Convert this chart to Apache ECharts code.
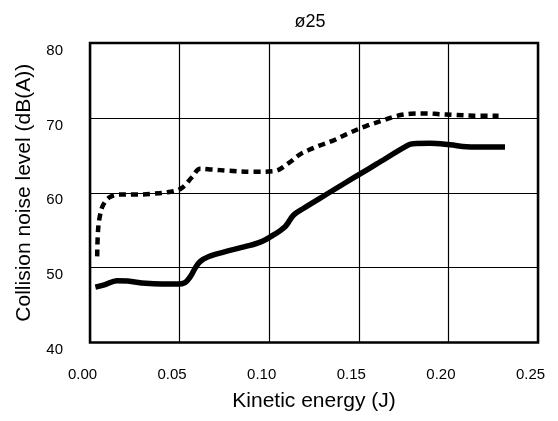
<!DOCTYPE html>
<html>
<head>
<meta charset="utf-8">
<script src="https://cdn.jsdelivr.net/npm/echarts@6/dist/echarts.min.js"></script>
<style>
html,body{margin:0;padding:0;background:#fff;}
#chart{width:558px;height:421px;}
</style>
</head>
<body>
<div id="chart"></div>
<script>
const chartTitle = 'ø25';
const xAxisName = 'Kinetic energy (J)';
const yAxisName = 'Collision noise level (dB(A))';
const xTicks = [0, 0.05, 0.10, 0.15, 0.20, 0.25];
const yTicks = [40, 50, 60, 70, 80];

const dashedX = [0.004, 0.0045, 0.0056, 0.0074, 0.011, 0.016, 0.025, 0.034, 0.044, 0.051, 0.057, 0.0614, 0.068, 0.077, 0.091, 0.103, 0.111, 0.117, 0.122, 0.128, 0.136, 0.143, 0.154, 0.164, 0.171, 0.179, 0.188, 0.195, 0.203, 0.214, 0.228];
const dashedY = [51.5, 55.0, 57.0, 58.4, 59.4, 59.75, 59.75, 59.85, 60.1, 60.6, 62.1, 63.2, 63.1, 62.95, 62.8, 62.9, 64.0, 65.1, 65.7, 66.3, 67.0, 67.8, 68.9, 69.7, 70.25, 70.55, 70.6, 70.5, 70.4, 70.3, 70.3];

const solidX = [0.003, 0.008, 0.015, 0.021, 0.031, 0.040, 0.049, 0.053, 0.056, 0.0586, 0.0614, 0.066, 0.075, 0.0865, 0.095, 0.102, 0.109, 0.1135, 0.119, 0.132, 0.143, 0.151, 0.160, 0.1775, 0.1804, 0.1897, 0.2009, 0.2102, 0.2214, 0.2316];
const solidY = [47.4, 47.7, 48.25, 48.2, 47.9, 47.8, 47.8, 48.0, 48.8, 49.9, 50.8, 51.45, 52.1, 52.8, 53.4, 54.3, 55.5, 57.0, 57.9, 59.8, 61.4, 62.55, 63.85, 66.35, 66.55, 66.6, 66.4, 66.15, 66.1, 66.1];

const pairs = (xs, ys) => xs.map((x, i) => [x, ys[i]]);
const FONT = '"Liberation Sans", Arial, sans-serif';

const chart = echarts.init(document.getElementById('chart'), null, {renderer: 'canvas'});
chart.setOption({
  animation: false,
  backgroundColor: '#fff',
  title: {
    text: chartTitle,
    left: 305,
    top: 8,
    textAlign: 'center',
    textStyle: {fontFamily: FONT, fontSize: 18, fontWeight: 'normal', color: '#000'}
  },
  grid: {
    left: 90, right: 20, top: 43, bottom: 78.5,
    show: true, borderColor: '#000', borderWidth: 2.5, backgroundColor: 'transparent'
  },
  xAxis: {
    type: 'value',
    min: xTicks[0], max: xTicks[xTicks.length - 1], interval: 0.05,
    name: xAxisName, nameLocation: 'middle', nameGap: 48,
    nameTextStyle: {fontFamily: FONT, fontSize: 21, color: '#000'},
    axisLine: {show: false}, axisTick: {show: false},
    axisLabel: {
      fontFamily: FONT, fontSize: 15, color: '#000', margin: 25,
      padding: [0, 15, 0, 0],
      formatter: v => v.toFixed(2)
    },
    splitLine: {show: true, lineStyle: {color: '#000', width: 1.2}}
  },
  yAxis: {
    type: 'value',
    min: yTicks[0], max: yTicks[yTicks.length - 1], interval: 10,
    name: yAxisName, nameLocation: 'middle', nameGap: 55,
    nameTextStyle: {fontFamily: FONT, fontSize: 21, color: '#000'},
    axisLine: {show: false}, axisTick: {show: false},
    axisLabel: {
      fontFamily: FONT, fontSize: 15, color: '#000', margin: 27,
      verticalAlign: 'top'
    },
    splitLine: {show: true, lineStyle: {color: '#000', width: 1.2}}
  },
  series: [
    {
      type: 'line', name: 'dashed', data: pairs(dashedX, dashedY),
      showSymbol: false, smooth: 0.35,
      lineStyle: {color: '#000', width: 4.5, type: [7, 5], cap: 'butt'}
    },
    {
      type: 'line', name: 'solid', data: pairs(solidX, solidY),
      showSymbol: false, smooth: 0.35,
      lineStyle: {color: '#000', width: 5.5, cap: 'butt'}
    }
  ]
});
</script>
</body>
</html>
